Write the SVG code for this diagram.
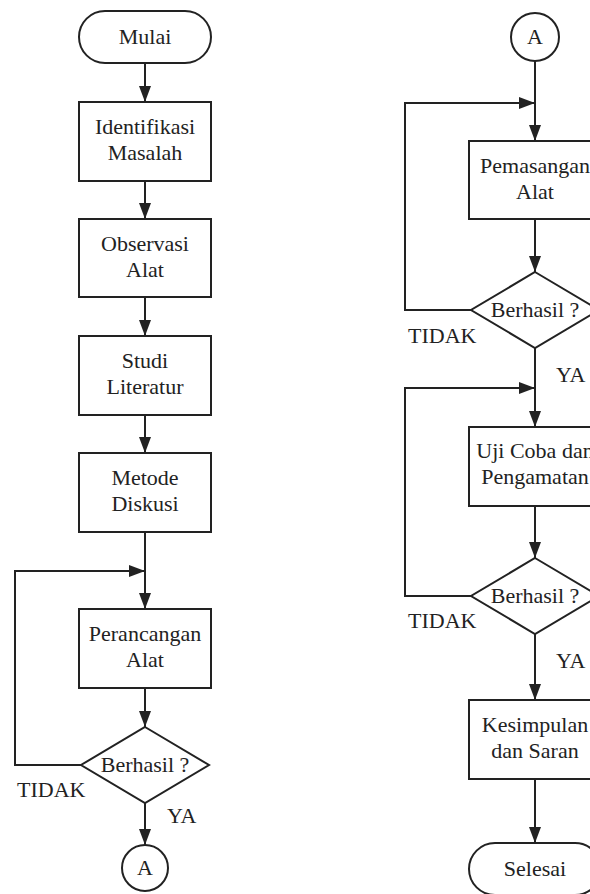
<svg xmlns="http://www.w3.org/2000/svg" width="590" height="894" viewBox="0 0 590 894">
<defs>
<style>
.s{fill:#fff;stroke:#222;stroke-width:2}
.c{fill:none;stroke:#222;stroke-width:2}
text{font-family:'Liberation Serif','DejaVu Serif',serif;font-size:22px;fill:#222}
.m{text-anchor:middle}
</style>
<marker id="ar" markerUnits="userSpaceOnUse" markerWidth="16" markerHeight="12" refX="16" refY="6" orient="auto">
<path d="M0,0 L16,6 L0,12 z" fill="#222"/>
</marker>
</defs>
<rect width="590" height="894" fill="#fff"/>
<g id="connectors">
<line class="c" x1="145" y1="63" x2="145" y2="102" marker-end="url(#ar)"/>
<line class="c" x1="145" y1="181" x2="145" y2="219" marker-end="url(#ar)"/>
<line class="c" x1="145" y1="297" x2="145" y2="336" marker-end="url(#ar)"/>
<line class="c" x1="145" y1="415" x2="145" y2="453" marker-end="url(#ar)"/>
<line class="c" x1="145" y1="532" x2="145" y2="609" marker-end="url(#ar)"/>
<line class="c" x1="145" y1="688" x2="145" y2="727" marker-end="url(#ar)"/>
<polyline class="c" points="81,765 15,765 15,571 145,571" marker-end="url(#ar)"/>
<line class="c" x1="145" y1="803" x2="145" y2="845" marker-end="url(#ar)"/>
<line class="c" x1="535" y1="61" x2="535" y2="141" marker-end="url(#ar)"/>
<polyline class="c" points="471,310 405,310 405,103 535,103" marker-end="url(#ar)"/>
<line class="c" x1="535" y1="219" x2="535" y2="272" marker-end="url(#ar)"/>
<line class="c" x1="535" y1="348" x2="535" y2="427" marker-end="url(#ar)"/>
<polyline class="c" points="471,596 405,596 405,388 535,388" marker-end="url(#ar)"/>
<line class="c" x1="535" y1="506" x2="535" y2="558" marker-end="url(#ar)"/>
<line class="c" x1="535" y1="634" x2="535" y2="700" marker-end="url(#ar)"/>
<line class="c" x1="535" y1="779" x2="535" y2="843" marker-end="url(#ar)"/>
<text x="17" y="797" font-family="Liberation Serif, serif">TIDAK</text>
<text x="167" y="823" font-family="Liberation Serif, serif">YA</text>
<text x="408" y="343" font-family="Liberation Serif, serif">TIDAK</text>
<text x="556" y="382" font-family="Liberation Serif, serif">YA</text>
<text x="408" y="628" font-family="Liberation Serif, serif">TIDAK</text>
<text x="556" y="668" font-family="Liberation Serif, serif">YA</text>
</g>
<g font-family="Liberation Serif, serif">
<g id="mulai"><rect class="s" x="79" y="11" width="132" height="52" rx="26"/><text class="m" x="145" y="44">Mulai</text></g>
<g id="identifikasi"><rect class="s" x="79" y="102" width="132" height="79"/><text class="m" x="145" y="134">Identifikasi</text><text class="m" x="145" y="160">Masalah</text></g>
<g id="observasi"><rect class="s" x="79" y="219" width="132" height="78"/><text class="m" x="145" y="251">Observasi</text><text class="m" x="145" y="277">Alat</text></g>
<g id="studi"><rect class="s" x="79" y="336" width="132" height="79"/><text class="m" x="145" y="368">Studi</text><text class="m" x="145" y="394">Literatur</text></g>
<g id="metode"><rect class="s" x="79" y="453" width="132" height="79"/><text class="m" x="145" y="485">Metode</text><text class="m" x="145" y="511">Diskusi</text></g>
<g id="perancangan"><rect class="s" x="79" y="609" width="132" height="79"/><text class="m" x="145" y="641">Perancangan</text><text class="m" x="145" y="667">Alat</text></g>
<g id="berhasil1"><polygon class="s" points="145,727 209,765 145,803 81,765"/><text class="m" x="145" y="772">Berhasil ?</text></g>
<g id="a1"><circle class="s" cx="145" cy="868" r="23"/><text class="m" x="145" y="875">A</text></g>
<g id="a2"><circle class="s" cx="535" cy="37" r="24"/><text class="m" x="535" y="44">A</text></g>
<g id="pemasangan"><rect class="s" x="469" y="141" width="132" height="78"/><text class="m" x="535" y="173">Pemasangan</text><text class="m" x="535" y="199">Alat</text></g>
<g id="berhasil2"><polygon class="s" points="535,272 599,310 535,348 471,310"/><text class="m" x="535" y="317">Berhasil ?</text></g>
<g id="ujicoba"><rect class="s" x="469" y="427" width="132" height="79"/><text class="m" x="535" y="458">Uji Coba dan</text><text class="m" x="535" y="484">Pengamatan</text></g>
<g id="berhasil3"><polygon class="s" points="535,558 599,596 535,634 471,596"/><text class="m" x="535" y="603">Berhasil ?</text></g>
<g id="kesimpulan"><rect class="s" x="469" y="700" width="132" height="79"/><text class="m" x="535" y="732">Kesimpulan</text><text class="m" x="535" y="758">dan Saran</text></g>
<g id="selesai"><rect class="s" x="469" y="843" width="132" height="52" rx="26"/><text class="m" x="535" y="876">Selesai</text></g>
</g>
</svg>
